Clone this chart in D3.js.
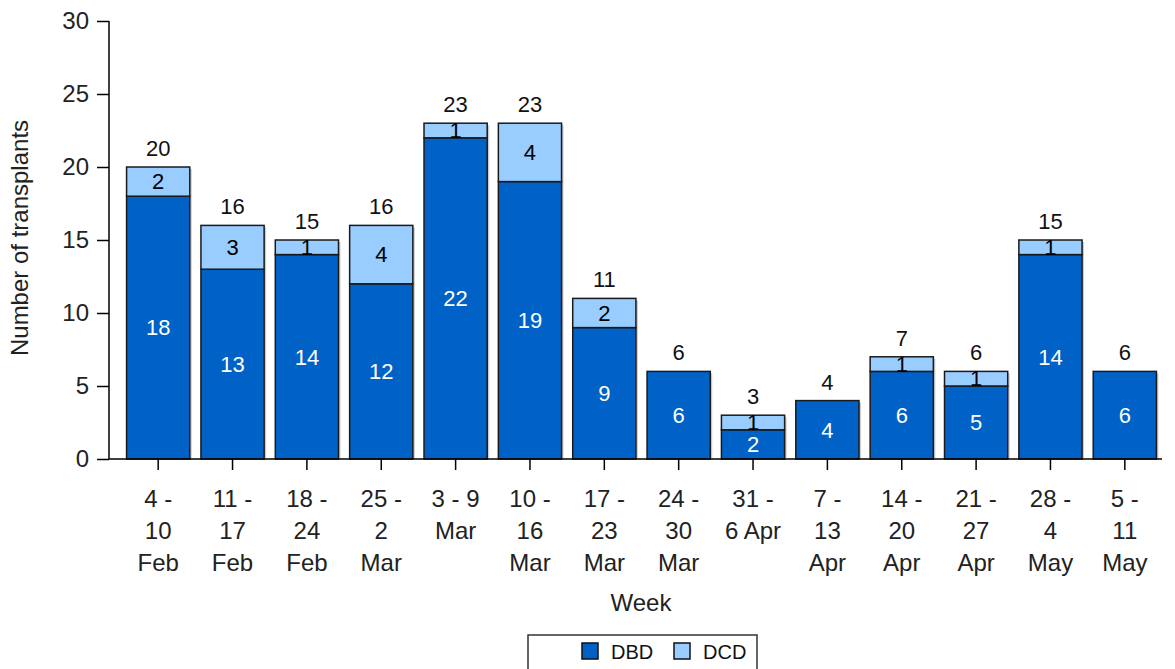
<!DOCTYPE html>
<html><head><meta charset="utf-8">
<script src="https://cdn.jsdelivr.net/npm/d3@7"></script>
<style>body{margin:0;background:#fff;}svg{display:block;font-family:"Liberation Sans",Arial,sans-serif;}</style>
</head><body>
<svg id="c" width="1175" height="669"></svg>
<script>
const categories = ["4 -|10|Feb","11 -|17|Feb","18 -|24|Feb","25 -|2|Mar","3 - 9|Mar","10 -|16|Mar","17 -|23|Mar","24 -|30|Mar","31 -|6 Apr","7 -|13|Apr","14 -|20|Apr","21 -|27|Apr","28 -|4|May","5 -|11|May"];
const dbd = [18,13,14,12,22,19,9,6,2,4,6,5,14,6];
const dcd = [2,3,1,4,1,4,2,0,1,0,1,1,1,0];
const seriesNames = ["DBD","DCD"];
const yTicks = [0,5,10,15,20,25,30];

const colors = {DBD:"#0062C6", DCD:"#99CCFF"};
const svg = d3.select("#c");
const x = d3.scaleBand().domain(categories).range([121,1162]).paddingInner(0.15).paddingOuter(0.075);
const y = d3.scaleLinear().domain([0,30]).range([459,21]);

// y axis
const ya = svg.append("g").attr("transform","translate(109,0)").call(d3.axisLeft(y).tickValues(yTicks).tickSize(12).tickPadding(8));
ya.select(".domain").attr("stroke","#000").attr("stroke-width",1.5).attr("d","M0,"+y(30)+"V"+y(0));
ya.selectAll(".tick line").attr("stroke","#000").attr("stroke-width",1.5);
ya.selectAll(".tick text").attr("font-size",24).attr("fill","#222").attr("font-family","Liberation Sans, Arial");

// bars
const data = categories.map((c,i)=>({c, dbd:dbd[i], dcd:dcd[i], total:dbd[i]+dcd[i]}));
const g = svg.append("g");
data.forEach(d=>{
  const bx = x(d.c), bw = x.bandwidth();
  g.append("rect").attr("x",bx+2).attr("y",y(d.total)+2).attr("width",bw).attr("height",y(0)-y(d.total)-2).attr("fill","#ccc");
  g.append("rect").attr("x",bx).attr("y",y(d.dbd)).attr("width",bw).attr("height",y(0)-y(d.dbd))
    .attr("fill",colors.DBD).attr("stroke","#1a1a1a").attr("stroke-width",1.5);
  if(d.dcd>0){
    g.append("rect").attr("x",bx).attr("y",y(d.total)).attr("width",bw).attr("height",y(d.dbd)-y(d.total))
      .attr("fill",colors.DCD).attr("stroke","#1a1a1a").attr("stroke-width",1.5);
  }
});
// labels
data.forEach(d=>{
  const cx = x(d.c)+x.bandwidth()/2;
  g.append("text").attr("x",cx).attr("y",(y(0)+y(d.dbd))/2).attr("dy","0.35em").attr("text-anchor","middle")
    .attr("font-size",22).attr("fill","#fff").text(d.dbd);
  if(d.dcd>0){
    g.append("text").attr("x",cx).attr("y",(y(d.dbd)+y(d.total))/2).attr("dy","0.35em").attr("text-anchor","middle")
      .attr("font-size",22).attr("fill","#000").text(d.dcd);
  }
  g.append("text").attr("x",cx).attr("y",y(d.total)-11).attr("text-anchor","middle")
    .attr("font-size",22).attr("fill","#111").text(d.total);
});

// x axis
const xa = svg.append("g").attr("transform","translate(0,459)").call(d3.axisBottom(x).tickSize(11).tickFormat(""));
xa.select(".domain").attr("stroke","#000").attr("stroke-width",1.5).attr("d","M109,0H1162");
xa.selectAll(".tick line").attr("stroke","#000").attr("stroke-width",1.5);
xa.selectAll(".tick").each(function(c){
  const lines = c.split("|");
  const t = d3.select(this).append("text").attr("text-anchor","middle").attr("font-size",24).attr("fill","#222");
  lines.forEach((l,i)=>t.append("tspan").attr("x",0).attr("y",48+i*32).text(l));
});

// axis titles
svg.append("text").attr("x",641).attr("y",611).attr("text-anchor","middle").attr("font-size",24).attr("fill","#222").text("Week");
svg.append("text").attr("transform","translate(28,238) rotate(-90)").attr("text-anchor","middle").attr("font-size",24).attr("fill","#222").text("Number of transplants");

// legend
const lg = svg.append("g");
lg.append("rect").attr("x",528).attr("y",635).attr("width",229).attr("height",40).attr("fill","#fff").attr("stroke","#333").attr("stroke-width",1.5);
const lpos = [582,674];
seriesNames.forEach((s,i)=>{
  lg.append("rect").attr("x",lpos[i]).attr("y",643).attr("width",16).attr("height",16).attr("fill",colors[s]).attr("stroke","#111").attr("stroke-width",1.5);
  lg.append("text").attr("x",lpos[i]+29).attr("y",659).attr("font-size",20).attr("fill","#111").text(s);
});
</script>
</body></html>
